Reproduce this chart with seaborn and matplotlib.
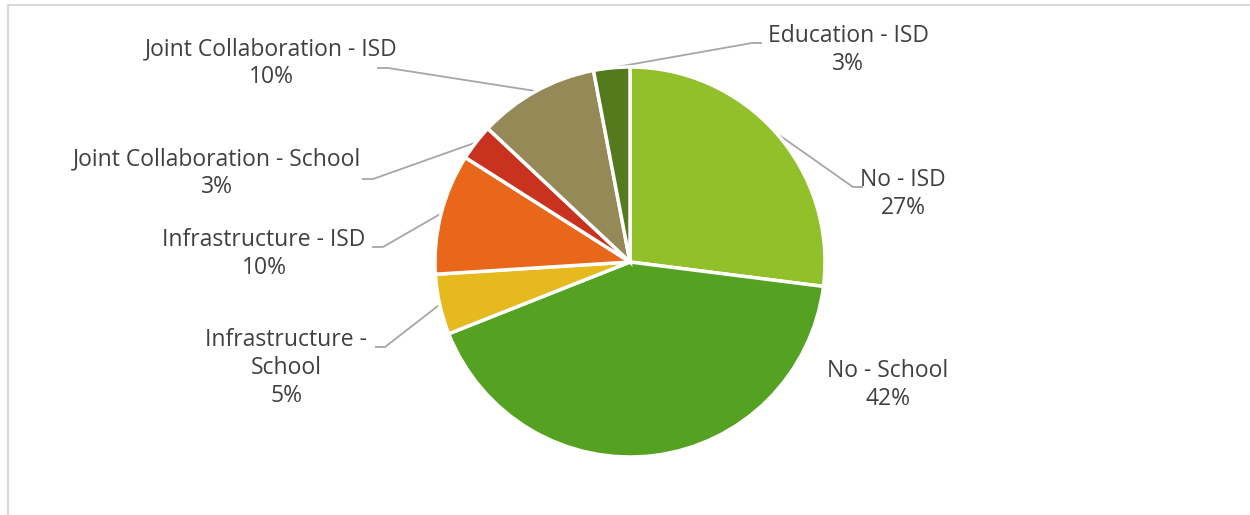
import numpy as np
import matplotlib
matplotlib.use("Agg")
import matplotlib.pyplot as plt
from matplotlib.lines import Line2D
import seaborn as sns

# Share of responses by category (percent), clockwise from 12 o'clock
categories = [
    "No - ISD",
    "No - School",
    "Infrastructure - School",
    "Infrastructure - ISD",
    "Joint Collaboration - School",
    "Joint Collaboration - ISD",
    "Education - ISD",
]
shares = [27, 42, 5, 10, 3, 10, 3]
label_lines = [
    "No - ISD",
    "No - School",
    "Infrastructure -\nSchool",
    "Infrastructure - ISD",
    "Joint Collaboration - School",
    "Joint Collaboration - ISD",
    "Education - ISD",
]

colors = ["#92C02A", "#55A121", "#E6B91E", "#E8671A", "#C8321E", "#948957", "#547A1E"]

sns.set_theme(style="white")
plt.rcParams["font.family"] = ["Open Sans", "DejaVu Sans"]

W, H = 1250, 515
fig = plt.figure(figsize=(W / 100, H / 100), dpi=100)
ax = fig.add_axes([0, 0, 1, 1])

def Y(py):
    return H - py

cx, cy, r = 630, Y(262), 195
palette = sns.color_palette(colors)
wedges, _ = ax.pie(
    shares,
    colors=palette,
    startangle=90,
    counterclock=False,
    center=(cx, cy),
    radius=r,
    wedgeprops=dict(edgecolor="white", linewidth=2.5),
)
ax.set_xlim(0, W)
ax.set_ylim(0, H)
ax.set_aspect("equal")
ax.axis("off")

# label text centre and leader elbow (None = no leader), in pixel layout
layout = [
    ((903, 194), (853, 187), (863, 187)),
    ((888, 385), None, None),
    ((286, 368), (385, 347), (375, 347)),
    ((264, 254), (383, 247), (372, 247)),
    ((217, 173), (373, 179), (362, 179)),
    ((271, 63), (388, 68), (377, 68)),
    ((848, 50), (752, 43), (762, 43)),
]

text_color = "#404040"
line_color = "#A6A6A6"
for w, name, val, (tpos, elbow, end) in zip(wedges, label_lines, shares, layout):
    ax.text(tpos[0], Y(tpos[1]), f"{name}\n{val}%", ha="center", va="center",
            fontsize=16.5, color=text_color, linespacing=1.2)
    if elbow is not None:
        mid = np.deg2rad((w.theta1 + w.theta2) / 2)
        sx, sy = cx + r * np.cos(mid), cy + r * np.sin(mid)
        ax.plot([sx, elbow[0], end[0]], [sy, Y(elbow[1]), Y(end[1])],
                color=line_color, lw=1.3, solid_capstyle="butt", zorder=0)

# light chart-area frame along the top and left
fig.add_artist(Line2D([8 / W, 1], [1 - 4.5 / H, 1 - 4.5 / H],
                      transform=fig.transFigure, color="#D9D9D9", lw=1.5))
fig.add_artist(Line2D([8 / W, 8 / W], [0, 1 - 4.5 / H],
                      transform=fig.transFigure, color="#D9D9D9", lw=1.5))

fig.savefig("out.png", dpi=100, facecolor="white")
